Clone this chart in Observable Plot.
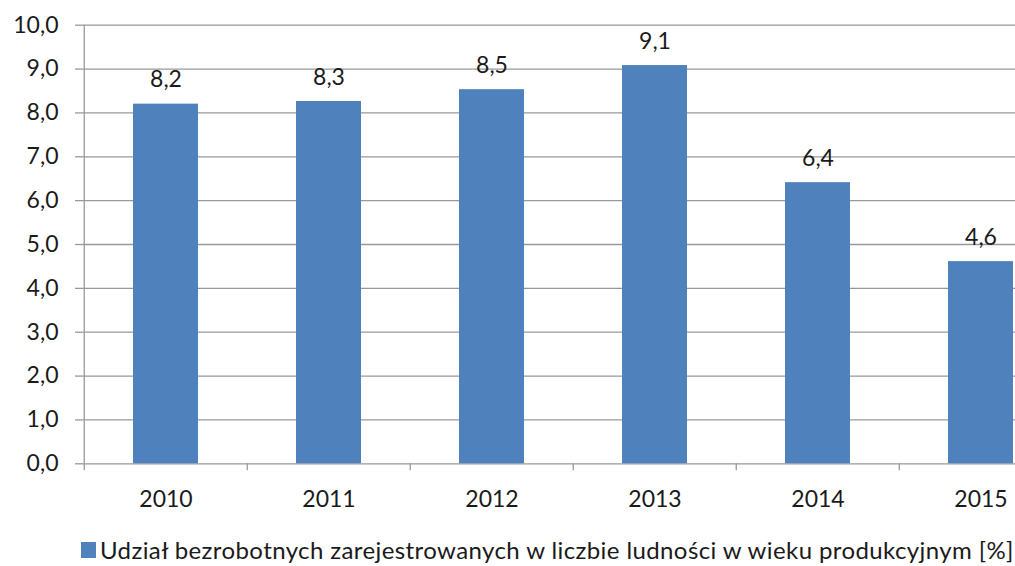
<!DOCTYPE html>
<html>
<head>
<meta charset="utf-8">
<script src="https://cdn.jsdelivr.net/npm/d3@7"></script>
<script src="https://cdn.jsdelivr.net/npm/@observablehq/plot@0.6"></script>
<style>
  html, body { margin: 0; padding: 0; background: #fff; }
  body { width: 1015px; height: 566px; overflow: hidden; font-family: Lato, "Open Sans", sans-serif; }
  #legend { display: flex; align-items: center; height: 32px; line-height: 28px; padding-left: 81px; font-size: 24px; letter-spacing: 0.4px; color: #1a1a1a; white-space: nowrap; position: relative; top: 4px; }
  #legend .sw { width: 15px; height: 16px; background: #4F81BD; margin-right: 4px; flex: none; }
</style>
</head>
<body>
<div id="chart"></div>
<div id="legend"><span class="sw"></span><span id="legendText"></span></div>
<script>
const years = ["2010", "2011", "2012", "2013", "2014", "2015"];
const values = [8.2, 8.26, 8.53, 9.08, 6.41, 4.61];
const yTicks = [0, 1, 2, 3, 4, 5, 6, 7, 8, 9, 10];
const seriesName = "Udział bezrobotnych zarejestrowanych w liczbie ludności w wieku produkcyjnym [%]";

const data = years.map((y, i) => ({year: y, value: values[i]}));
const fmt = v => v.toFixed(1).replace(".", ",");
const W = 1015, H = 530;
const xLeft = 83, xRight = 1064;
const step = (xRight - xLeft) / years.length;
const gray = "#999";

const chart = Plot.plot({
  width: W,
  height: H,
  marginTop: 24.7,
  marginBottom: H - 463.3,
  marginLeft: xLeft,
  marginRight: 0,
  style: {fontFamily: "Lato, 'Open Sans', sans-serif", fontSize: "23px", color: "#1a1a1a", background: "#fff", overflow: "visible"},
  x: {domain: years, range: [xLeft, xRight], paddingInner: 0.6, paddingOuter: 0.3},
  y: {domain: [0, 10], ticks: yTicks},
  marks: [
    Plot.ruleY(yTicks, {y: d => d, stroke: gray, strokeWidth: 1.3, x1: null, x2: null}),
    Plot.barY(data, {x: "year", y: "value", fill: "#4F81BD"}),
    Plot.ruleX(years, {x: d => d, dx: -step / 2, y1: 0, y2: -0.16, stroke: gray, strokeWidth: 1.3, clip: false}),
    Plot.ruleX([years[0]], {x: d => d, dx: -step / 2, y1: 0, y2: 10, stroke: gray, strokeWidth: 1.3}),
    Plot.axisY({ticks: yTicks, tickSize: 8, tickPadding: 17, tickFormat: fmt, stroke: gray, strokeWidth: 1.3, fill: "#1a1a1a", fontSize: 23, label: null}),
    Plot.axisX({tickSize: 0, tickPadding: 27, fill: "#1a1a1a", fontSize: 23, label: null}),
    Plot.text(data, {x: "year", y: "value", text: d => fmt(d.value), lineAnchor: "bottom", dy: -17, fill: "#1a1a1a", fontSize: 23})
  ]
});
document.getElementById("chart").appendChild(chart);
document.getElementById("legendText").textContent = seriesName;
</script>
</body>
</html>
